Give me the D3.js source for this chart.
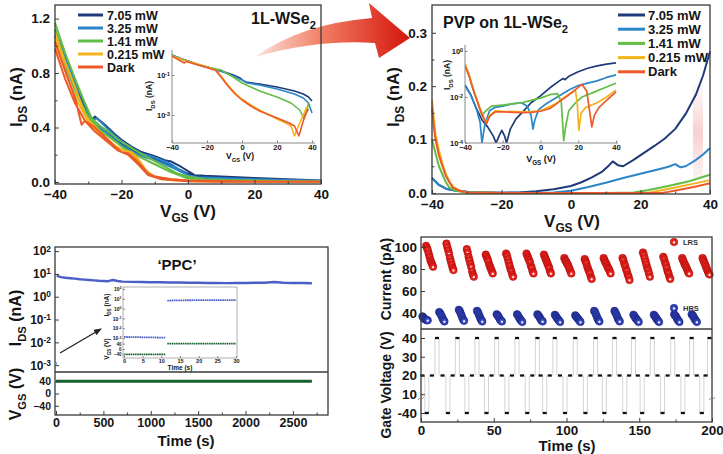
<!DOCTYPE html>
<html><head><meta charset="utf-8">
<script src="https://cdn.jsdelivr.net/npm/d3@7"></script>
<style>
body{margin:0;background:#fff;}
svg{display:block;font-family:"Liberation Sans",Arial,sans-serif;font-weight:bold;}
</style></head><body>
<svg id="c" width="723" height="454"></svg>
<script>
// ---------------- DATA ----------------
const seriesNames = ["7.05 mW","3.25 mW","1.41 mW","0.215 mW","Dark"];
const seriesColors = ["#1e3a78","#2a86c8","#62bd45","#f3b31b","#eb5a28"];

// Panel A (1L-WSe2), I_DS (nA) vs V_GS, forward / backward sweeps
const a705F = [[-40,1.07],[-37,0.88],[-34,0.7],[-31,0.55],[-29,0.45],[-28,0.48],[-25,0.42],[-22,0.35],[-20,0.31],[-17,0.26],[-14,0.22],[-10,0.19],[-7,0.16],[-5,0.15],[-2,0.11],[0,0.08],[2,0.05],[5,0.045],[10,0.04],[20,0.03],[30,0.02],[40,0.01]];
const a705B = [[40,0.01],[30,0.015],[20,0.02],[10,0.025],[3,0.04],[0,0.06],[-5,0.12],[-10,0.17],[-15,0.21],[-20,0.28],[-25,0.38],[-28,0.44],[-30,0.5],[-33,0.65],[-36,0.82],[-40,1.03]];
const a325F = [[-40,1.12],[-37,0.92],[-34,0.74],[-31,0.57],[-29,0.44],[-27.5,0.47],[-25,0.41],[-22,0.34],[-20,0.3],[-17,0.25],[-14,0.21],[-10,0.18],[-7,0.15],[-5,0.13],[-2,0.08],[0,0.05],[3,0.035],[10,0.03],[20,0.02],[30,0.015],[40,0.008]];
const a325B = [[40,0.008],[30,0.01],[20,0.015],[10,0.02],[2,0.03],[0,0.05],[-5,0.11],[-10,0.16],[-15,0.2],[-20,0.27],[-25,0.37],[-28,0.42],[-31,0.52],[-34,0.68],[-37,0.86],[-40,1.08]];
const a141F = [[-40,1.17],[-37,0.95],[-34,0.76],[-31,0.58],[-29,0.47],[-27,0.42],[-24,0.37],[-21,0.31],[-19,0.28],[-17,0.25],[-15,0.22],[-12,0.18],[-9,0.14],[-6,0.1],[-3,0.06],[0,0.04],[5,0.02],[15,0.012],[30,0.006],[40,0.004]];
const a141B = [[40,0.004],[20,0.006],[5,0.012],[0,0.025],[-5,0.07],[-10,0.13],[-15,0.19],[-18,0.23],[-20,0.26],[-22,0.3],[-26,0.37],[-30,0.48],[-33,0.62],[-36,0.8],[-40,1.12]];
const a0215F = [[-40,1.1],[-37,0.88],[-34,0.7],[-31,0.5],[-30,0.46],[-27,0.38],[-24,0.31],[-21,0.25],[-19,0.23],[-17,0.22],[-15,0.17],[-13,0.1],[-11,0.05],[-8,0.03],[-5,0.02],[0,0.01],[10,0.005],[40,0.002]];
const a0215B = [[40,0.002],[10,0.003],[0,0.006],[-6,0.015],[-10,0.04],[-13,0.09],[-16,0.19],[-18,0.22],[-20,0.24],[-23,0.28],[-27,0.36],[-30,0.44],[-33,0.58],[-36,0.75],[-40,1.06]];
const aDarkF = [[-40,1.03],[-37,0.82],[-34,0.62],[-32.5,0.47],[-32,0.42],[-31,0.45],[-28,0.4],[-25,0.33],[-22,0.26],[-20,0.22],[-18,0.21],[-16,0.17],[-14,0.12],[-12,0.06],[-10,0.04],[-5,0.02],[0,0.01],[20,0.004],[40,0.001]];
const aDarkB = [[40,0.001],[10,0.002],[0,0.005],[-8,0.02],[-12,0.05],[-15,0.13],[-18,0.2],[-21,0.23],[-24,0.29],[-28,0.37],[-31,0.45],[-34,0.58],[-37,0.76],[-40,0.98]];

// Panel A inset: log10 I_DS
const ia705 = [[-40,0],[-35,-0.18],[-30,-0.33],[-25,-0.48],[-20,-0.6],[-15,-0.72],[-10,-0.85],[-5,-1.0],[-1,-1.15],[1,-1.3],[3,-1.37],[10,-1.45],[20,-1.6],[30,-1.8],[35,-1.95],[38,-2.1],[40,-2.3]];
const ia325 = [[-40,-0.02],[-35,-0.2],[-30,-0.34],[-25,-0.5],[-20,-0.62],[-15,-0.74],[-10,-0.88],[-5,-1.05],[0,-1.25],[3,-1.4],[10,-1.5],[20,-1.7],[30,-1.95],[35,-2.15],[38,-2.4],[40,-2.9]];
const ia141 = [[-40,0],[-35,-0.2],[-30,-0.35],[-20,-0.6],[-12,-0.75],[-5,-1.1],[0,-1.4],[5,-1.6],[10,-1.8],[20,-2.1],[28,-2.4],[33,-2.75],[35.5,-3.2],[37,-2.8],[38,-2.4]];
const ia0215 = [[-40,-0.05],[-35,-0.2],[-31,-0.33],[-27,-0.4],[-20,-0.6],[-15,-0.75],[-12,-1.05],[-8,-1.5],[-4,-1.9],[0,-2.2],[5,-2.5],[10,-2.75],[20,-3.2],[25,-3.4],[28,-3.55],[30,-4.05],[32,-3.6],[35,-3.0],[37,-2.6]];
const iaDark = [[-40,-0.05],[-36,-0.25],[-33,-0.4],[-32,-0.33],[-28,-0.42],[-20,-0.62],[-15,-0.78],[-12,-1.1],[-8,-1.55],[-4,-1.95],[0,-2.25],[5,-2.55],[10,-2.8],[20,-3.15],[27,-3.4],[30,-3.55],[32.5,-4.05],[34,-3.6],[36,-3.0],[38,-2.7]];

// Panel B (PVP on 1L-WSe2) I_DS (nA)
const b705 = [[-40,0.028],[-38,0.015],[-36,0.008],[-33,0.004],[-30,0.002],[-25,0.001],[-20,0.0005],[-15,0.001],[-10,0.003],[-5,0.007],[0,0.013],[3,0.02],[6,0.029],[9,0.04],[11,0.052],[12,0.059],[13.5,0.052],[15,0.05],[18,0.062],[21,0.075],[24,0.088],[27,0.102],[30,0.12],[33,0.148],[36,0.185],[38,0.22],[40,0.265]];
const b325 = [[-40,0.028],[-38,0.015],[-36,0.008],[-33,0.004],[-30,0.002],[-20,0.0005],[-10,0.0005],[-5,0.001],[0,0.004],[5,0.011],[10,0.019],[15,0.028],[20,0.036],[25,0.044],[28,0.049],[30,0.054],[31.5,0.048],[33,0.05],[36,0.062],[38,0.072],[40,0.084]];
const b141 = [[-40,0.1],[-39,0.075],[-38,0.05],[-37,0.035],[-36,0.02],[-35,0.01],[-33,0.004],[-30,0.001],[-20,0],[0,0],[10,0],[18,0.001],[22,0.005],[28,0.013],[34,0.022],[40,0.034]];
const b0215 = [[-40,0.174],[-39.5,0.14],[-39,0.11],[-38,0.08],[-37,0.055],[-36,0.035],[-35,0.022],[-34,0.012],[-32,0.004],[-30,0.001],[-20,0],[10,0],[22,0],[26,0.005],[30,0.01],[35,0.017],[40,0.024]];
const bDark = [[-40,0.16],[-39.5,0.125],[-39,0.1],[-38,0.07],[-37,0.05],[-36,0.032],[-35,0.02],[-34,0.01],[-32,0.004],[-30,0.001],[-20,0],[20,0],[26,0],[28,0.002],[32,0.007],[36,0.012],[40,0.018]];

// Panel B inset: log10 I_DS
const ib705 = [[-40,-1.48],[-37,-1.9],[-34,-2.5],[-31,-3.0],[-28,-3.3],[-25,-3.7],[-23.5,-4.0],[-22,-3.7],[-20.5,-3.45],[-19,-3.7],[-18,-4.0],[-16,-3.4],[-13,-2.95],[-10,-2.7],[-5,-2.25],[0,-1.95],[5,-1.6],[10,-1.3],[12,-1.2],[13,-1.25],[15,-1.1],[20,-0.9],[25,-0.75],[30,-0.65],[35,-0.57],[40,-0.52]];
const ib325 = [[-40,-1.5],[-37,-1.9],[-34,-2.5],[-32,-3.1],[-31,-4.0],[-29.5,-3.2],[-27,-2.6],[-24,-2.45],[-20,-2.4],[-15,-2.3],[-10,-2.25],[-7,-2.4],[-5,-2.8],[-4,-3.4],[-3,-3.0],[-1,-2.55],[2,-2.35],[5,-2.2],[10,-1.95],[15,-1.7],[20,-1.5],[25,-1.4],[30,-1.3],[35,-1.15],[40,-1.04]];
const ib141 = [[-40,-0.6],[-38,-1.0],[-36,-1.6],[-33,-2.3],[-31,-2.8],[-29,-2.6],[-26,-2.4],[-20,-2.35],[-15,-2.3],[-10,-2.25],[-5,-2.15],[0,-2.05],[5,-1.9],[9,-1.85],[11,-2.2],[12.3,-3.9],[13.5,-3.2],[15,-2.6],[18,-2.3],[22,-2.0],[28,-1.8],[34,-1.6],[40,-1.4]];
const ib0215 = [[-40,-0.55],[-38,-1.0],[-35,-1.8],[-32,-2.5],[-30,-2.9],[-28.5,-3.1],[-27,-2.8],[-24,-2.6],[-20,-2.62],[-10,-2.65],[-5,-2.64],[0,-2.6],[4,-2.45],[8,-2.3],[12,-2.05],[16,-1.85],[18.5,-1.7],[19.5,-2.3],[20.3,-3.45],[21.5,-2.7],[24,-2.45],[30,-2.25],[35,-2.0],[40,-1.7]];
const ibDark = [[-40,-0.65],[-38,-1.05],[-35,-1.85],[-32,-2.55],[-30,-2.95],[-28.5,-3.15],[-27,-2.85],[-24,-2.65],[-20,-2.65],[-10,-2.68],[-5,-2.67],[0,-2.62],[5,-2.5],[10,-2.2],[15,-1.9],[19,-1.65],[22,-1.45],[24.5,-1.75],[26,-2.6],[27.2,-3.3],[28.5,-2.8],[31,-2.45],[35,-2.15],[40,-1.78]];

// Panel C ('PPC')
const cIdsPre = [[0,0.0012],[8,0.0012]];
const cIds = [[8,8.5],[20,8],[50,7.2],[100,6.8],[150,6.5],[200,6.2],[250,5.8],[300,5.6],[350,5.4],[400,5.2],[450,5.0],[500,4.9],[550,4.8],[600,5.4],[650,4.9],[700,4.6],[800,4.5],[900,4.4],[1000,4.3],[1100,4.3],[1200,4.2],[1300,4.2],[1400,4.1],[1500,4.1],[1600,4.0],[1700,4.0],[1800,3.95],[1900,4.0],[2000,4.0],[2100,4.1],[2200,4.1],[2300,4.4],[2400,4.1],[2500,4.0],[2600,4.0],[2700,3.9]];
const cVgs = [[0,40],[2700,40]];
const cTicksX = [0,500,1000,1500,2000,2500];
const cTicksI = [1e-3,1e-2,1e-1,1,10,100];
const cTicksV = [-40,0,40];
// inset of panel C
const icIdsLow = [[0,0.0013],[5,0.0012],[11.2,0.0011]];
const icIdsHigh = [[11.6,6.5],[15,7],[20,7.2],[30,7.4]];
const icVgsLow = [[0,-40],[11.2,-40]];
const icVgsHigh = [[11.6,40],[30,40]];

// Panel D (LRS / HRS)
const lrsStart = [3.5,17.5,31.5,44.5,58.5,72.5,84.5,98.5,112.5,125.5,138.5,152.5,166.5,179.5,193.5];
const lrsVals = [
 [101,99,97,94,91,88,86,84,82],[103,100,97,94,90,87,84,81,79],[98,95,91,88,85,82,78,75,73],
 [93,91,89,87,84,82,80,78,76],[94,92,89,86,83,80,78,75,73],[94,92,90,88,86,83,81,78,76],
 [93,91,89,87,85,83,81,78,76],[90,88,87,85,84,82,80,78,76],[89,87,85,82,80,78,76,73,71],
 [90,88,86,85,83,81,80,78,76],[90,88,85,83,80,78,75,73,70],[95,93,90,87,84,81,79,76,73],
 [91,89,86,84,81,78,76,73,71],[90,88,86,84,83,81,79,77,76],[90,88,86,84,82,80,78,76,75]];
const hrsStart = [1,12.5,26,38.5,52,66,80,92,106,119,133,146,160,174,186];
const hrsVals = [
 [37,36,35,34.5,34,33.5,33.5],[41,40,38.5,37,35,33.5,32.5],[43,42,40,38,36,34,33],
 [42,41,39,37,35,33.5,32.5],[39,38,37,35.5,34,33,32.5],[39,38,36.5,35,34,33,32],
 [39,38,37,35.5,34,33,32.5],[38.5,37.5,36,35,34,33,32],[38,37,36,35,34,33,32],
 [42,41,39,37,35,33.5,32.5],[42,40.5,39,37,35,33.5,32.5],[38.5,37.5,36,35,34,33,32],
 [38.5,37.5,36.5,35,34,33,32],[39,38,37,35.5,34,33,32],[39,38,37,35.5,34,33,32]];
const negPulseT = [4,18.5,31.5,45,59,73,85,99,113,126,140,152,166,180,193];
const posPulseT = [11,25,38.5,52,66,80,92,106,120,133,146,159,173,186,198.3];
const readT = [0.9,7.5,14.8,21.8,28.2,35,41.8,48.5,55.5,62.5,69.5,76.5,82.2,88.5,95.5,102.5,109.5,116.5,123,129.5,136.5,143,149,155.5,162.5,169.5,176.5,183,189.5,195.6];
const dTicksX = [0,50,100,150,200];
const dTicksI = [40,60,80,100];
const dTicksV = [40,30,20,10,-40];

// ---------------- HELPERS ----------------
const svg = d3.select("#c");
svg.append("rect").attr("width",723).attr("height",454).attr("fill","#fff");
const defs = svg.append("defs");
const TXT = "#151515", AXC = "#3a3a3a";

function rich(g, x, y, parts, size, opts={}){
  const t = g.append("text").attr("x",x).attr("y",y).attr("font-size",size)
    .attr("text-anchor",opts.anchor||"middle").attr("fill",opts.fill||TXT);
  if(opts.rotate) t.attr("transform",`rotate(-90,${x},${y})`);
  let cur=0;
  parts.forEach(([s,k])=>{
    const target = k===1? size*0.3 : (k===-1 ? -size*0.4 : 0);
    const ts = t.append("tspan").text(s).attr("dy", (target-cur).toFixed(2));
    if(k!==0) ts.attr("font-size", size*0.7);
    cur = target;
  });
  return t;
}
function axisStyle(g, size){
  g.select(".domain").remove();
  g.selectAll(".tick line").attr("stroke",AXC).attr("stroke-width",1);
  g.selectAll(".tick text").attr("font-size",size).attr("fill",TXT).attr("font-family","Liberation Sans, Arial, sans-serif").attr("font-weight","bold");
  return g;
}
function pow10Labels(g){
  g.selectAll(".tick text").each(function(d){
    const t=d3.select(this); t.text(null);
    t.append("tspan").text("10");
    t.append("tspan").attr("dy","-0.45em").attr("font-size","0.7em").text(Math.round(Math.log10(d)));
  });
}
function box(g,x,y,w,h,stroke,sw){
  g.append("rect").attr("x",x).attr("y",y).attr("width",w).attr("height",h)
   .attr("fill","none").attr("stroke",stroke||AXC).attr("stroke-width",sw||1.3);
}

// ---------------- red arrow ----------------
const ag = defs.append("linearGradient").attr("id","arrowGrad").attr("x1","0").attr("x2","1").attr("y1","0").attr("y2","0");
ag.append("stop").attr("offset","0").attr("stop-color","#fde3dc");
ag.append("stop").attr("offset","0.45").attr("stop-color","#f07a60");
ag.append("stop").attr("offset","1").attr("stop-color","#d4150c");
svg.append("path").attr("d","M255,57 Q300,24 372,18 L369,3 L410,38 L379,58 L375,43 Q318,39 255,57 Z")
  .attr("fill","url(#arrowGrad)");

// ---------------- PANEL A ----------------
{
  const g = svg.append("g");
  const x = d3.scaleLinear().domain([-40,40]).range([55,321]);
  const y = d3.scaleLinear().domain([-0.015,1.3]).range([184,5]);
  const aF=[a705F,a325F,a141F,a0215F,aDarkF], aB=[a705B,a325B,a141B,a0215B,aDarkB];
  const line = d3.line().x(d=>x(d[0])).y(d=>y(d[1]));
  aF.forEach((s,i)=>{
    g.append("path").attr("d",line(s.concat(aB[i]))).attr("fill","none").attr("stroke",seriesColors[i]).attr("stroke-width",2).attr("stroke-linejoin","round");
  });
  box(g,55,5,266,179);
  axisStyle(g.append("g").attr("transform","translate(0,184)").call(d3.axisBottom(x).tickValues([-40,-20,0,20,40]).tickSizeInner(-4).tickSizeOuter(0).tickPadding(5.5)),13.5);
  axisStyle(g.append("g").attr("transform","translate(0,184)").call(d3.axisBottom(x).tickValues([-30,-10,10,30]).tickSizeInner(-2.5).tickSizeOuter(0).tickFormat("")),13);
  axisStyle(g.append("g").attr("transform","translate(55,0)").call(d3.axisLeft(y).tickValues([0,0.4,0.8,1.2]).tickFormat(d3.format(".1f")).tickSizeInner(-4).tickSizeOuter(0).tickPadding(5)),13.5);
  axisStyle(g.append("g").attr("transform","translate(55,0)").call(d3.axisLeft(y).tickValues([0.2,0.6,1.0]).tickSizeInner(-2.5).tickSizeOuter(0).tickFormat("")),13);
  rich(g,188,217,[["V",0],["GS",1],[" (V)",0]],17);
  rich(g,22,97,[["I",0],["DS",1],[" (nA)",0]],17,{rotate:true});
  rich(g,251,24,[["1L-WSe",0],["2",1]],16,{anchor:"start"});
  seriesNames.forEach((n,i)=>{
    const yy = 15 + i*13;
    g.append("line").attr("x1",78).attr("x2",103).attr("y1",yy).attr("y2",yy).attr("stroke",seriesColors[i]).attr("stroke-width",3);
    g.append("text").attr("x",107).attr("y",yy+4.5).attr("font-size",12.5).attr("fill",TXT).text(n);
  });
  // inset
  const ix = d3.scaleLinear().domain([-40,40]).range([172,312]);
  const iy = d3.scaleLinear().domain([-4.4,0.25]).range([143,50]);
  const il = d3.line().x(d=>ix(d[0])).y(d=>iy(d[1]));
  [ia705,ia325,ia141,ia0215,iaDark].forEach((s,i)=>{
    g.append("path").attr("d",il(s)).attr("fill","none").attr("stroke",seriesColors[i]).attr("stroke-width",1.6).attr("stroke-linejoin","round");
  });
  g.append("path").attr("d","M172,50 V143 H315").attr("fill","none").attr("stroke","#888").attr("stroke-width",1);
  const ixa = g.append("g").attr("transform","translate(0,143)").call(d3.axisBottom(ix).tickValues([-40,-20,0,20,40]).tickSizeInner(-2.5).tickSizeOuter(0).tickPadding(2));
  axisStyle(ixa,7.5); ixa.selectAll(".tick line").attr("stroke","#888");
  const iya = g.append("g").attr("transform","translate(172,0)").call(d3.axisLeft(iy).tickValues([-1,-3]).tickSizeInner(-2.5).tickSizeOuter(0).tickPadding(2));
  axisStyle(iya,7.5); iya.selectAll(".tick line").attr("stroke","#888");
  iya.selectAll(".tick text").each(function(d){const t=d3.select(this);t.text(null);t.append("tspan").text("10");t.append("tspan").attr("dy","-0.45em").attr("font-size","0.7em").text(d);});
  rich(g,240,159,[["V",0],["GS",1],[" (V)",0]],8.5);
  rich(g,152,96,[["I",0],["DS",1],[" (nA)",0]],8.5,{rotate:true});
}

// ---------------- PANEL B ----------------
{
  const g = svg.append("g");
  const x = d3.scaleLinear().domain([-40,40]).range([432,710]);
  const y = d3.scaleLinear().domain([-0.002,0.352]).range([194,5]);
  const pg = defs.append("linearGradient").attr("id","pinkBand").attr("x1","0").attr("x2","0").attr("y1","0").attr("y2","1");
  pg.append("stop").attr("offset","0").attr("stop-color","#fbe3e3").attr("stop-opacity",0.3);
  pg.append("stop").attr("offset","0.5").attr("stop-color","#f8cfcf");
  pg.append("stop").attr("offset","1").attr("stop-color","#fbe3e3").attr("stop-opacity",0.5);
  g.append("rect").attr("x",693).attr("y",86).attr("width",10).attr("height",92).attr("fill","url(#pinkBand)");
  const line = d3.line().x(d=>x(d[0])).y(d=>y(d[1]));
  [b705,b325,b141,b0215,bDark].forEach((s,i)=>{
    g.append("path").attr("d",line(s)).attr("fill","none").attr("stroke",seriesColors[i]).attr("stroke-width",2).attr("stroke-linejoin","round");
  });
  box(g,432,5,278,189);
  axisStyle(g.append("g").attr("transform","translate(0,194)").call(d3.axisBottom(x).tickValues([-40,-20,0,20,40]).tickSizeInner(-4).tickSizeOuter(0).tickPadding(5.5)),13.5);
  axisStyle(g.append("g").attr("transform","translate(0,194)").call(d3.axisBottom(x).tickValues([-30,-10,10,30]).tickSizeInner(-2.5).tickSizeOuter(0).tickFormat("")),13);
  axisStyle(g.append("g").attr("transform","translate(432,0)").call(d3.axisLeft(y).tickValues([0,0.1,0.2,0.3]).tickFormat(d3.format(".1f")).tickSizeInner(-4).tickSizeOuter(0).tickPadding(5)),13.5);
  axisStyle(g.append("g").attr("transform","translate(432,0)").call(d3.axisLeft(y).tickValues([0.05,0.15,0.25]).tickSizeInner(-2.5).tickSizeOuter(0).tickFormat("")),13);
  rich(g,572,227,[["V",0],["GS",1],[" (V)",0]],17);
  rich(g,399,97,[["I",0],["DS",1],[" (nA)",0]],17,{rotate:true});
  rich(g,443,28,[["PVP on 1L-WSe",0],["2",1]],16,{anchor:"start"});
  seriesNames.forEach((n,i)=>{
    const yy = 15 + i*14.2;
    g.append("line").attr("x1",618).attr("x2",645).attr("y1",yy).attr("y2",yy).attr("stroke",seriesColors[i]).attr("stroke-width",3);
    g.append("text").attr("x",648).attr("y",yy+4.5).attr("font-size",13).attr("fill",TXT).text(n);
  });
  // inset
  const ix = d3.scaleLinear().domain([-40,40]).range([465,616]);
  const iy = d3.scaleLinear().domain([-4,0.26]).range([143,45]);
  defs.append("clipPath").attr("id","clipIB").append("rect").attr("x",465).attr("y",45).attr("width",155).attr("height",98);
  const il = d3.line().x(d=>ix(d[0])).y(d=>iy(d[1]));
  const ig = g.append("g").attr("clip-path","url(#clipIB)");
  [ib705,ib325,ib141,ib0215,ibDark].forEach((s,i)=>{
    ig.append("path").attr("d",il(s)).attr("fill","none").attr("stroke",seriesColors[i]).attr("stroke-width",1.7).attr("stroke-linejoin","round");
  });
  g.append("path").attr("d","M465,45 V143 H618").attr("fill","none").attr("stroke","#888").attr("stroke-width",1);
  const ixa = g.append("g").attr("transform","translate(0,143)").call(d3.axisBottom(ix).tickValues([-40,-20,0,20,40]).tickSizeInner(-2.5).tickSizeOuter(0).tickPadding(2));
  axisStyle(ixa,7.5); ixa.selectAll(".tick line").attr("stroke","#888");
  const iya = g.append("g").attr("transform","translate(465,0)").call(d3.axisLeft(iy).tickValues([0,-2,-4]).tickSizeInner(-2.5).tickSizeOuter(0).tickPadding(2));
  axisStyle(iya,7.5); iya.selectAll(".tick line").attr("stroke","#888");
  iya.selectAll(".tick text").each(function(d){const t=d3.select(this);t.text(null);t.append("tspan").text("10");t.append("tspan").attr("dy","-0.45em").attr("font-size","0.7em").text(d===0?"0":d);});
  rich(g,541,162,[["V",0],["GS",1],[" (V)",0]],9);
  rich(g,450,75,[["I",0],["DS",1],[" (nA)",0]],8.5,{rotate:true});
}

// ---------------- PANEL C ----------------
{
  const g = svg.append("g");
  const x = d3.scaleLinear().domain([0,2870]).range([56,328]);
  const yI = d3.scaleLog().domain([Math.pow(10,-3.3),Math.pow(10,2.18)]).range([372,247]);
  const yV = d3.scaleLinear().domain([-70,70]).range([415,372]);
  const lIds = d3.line().x(d=>x(d[0])).y(d=>yI(d[1]));
  g.append("path").attr("d",lIds(cIdsPre)).attr("fill","none").attr("stroke","#4a5ec8").attr("stroke-width",2.4);
  g.append("path").attr("d",lIds(cIds)).attr("fill","none").attr("stroke","#4a5ec8").attr("stroke-width",2.4).attr("stroke-linejoin","round");
  g.append("path").attr("d",d3.line().x(d=>x(d[0])).y(d=>yV(d[1]))(cVgs)).attr("fill","none").attr("stroke","#17612f").attr("stroke-width",3);
  box(g,55,247,273,168);
  g.append("line").attr("x1",55).attr("x2",328).attr("y1",372).attr("y2",372).attr("stroke",AXC).attr("stroke-width",1.3);
  axisStyle(g.append("g").attr("transform","translate(0,415)").call(d3.axisBottom(x).tickValues(cTicksX).tickFormat(d3.format("d")).tickSizeInner(-4).tickSizeOuter(0).tickPadding(3)),12.5);
  axisStyle(g.append("g").attr("transform","translate(0,415)").call(d3.axisBottom(x).tickValues([250,750,1250,1750,2250,2750]).tickSizeInner(-2.5).tickSizeOuter(0).tickFormat("")),12);
  const ya = g.append("g").attr("transform","translate(55,0)").call(d3.axisLeft(yI).tickValues(cTicksI).tickSizeInner(-4).tickSizeOuter(0).tickPadding(4));
  axisStyle(ya,12); pow10Labels(ya);
  axisStyle(g.append("g").attr("transform","translate(55,0)").call(d3.axisLeft(yV).tickValues(cTicksV).tickSizeInner(-4).tickSizeOuter(0).tickPadding(4)),10.5);
  rich(g,186,446,[["Time (s)",0]],15);
  rich(g,21,318,[["I",0],["DS",1],[" (nA)",0]],16,{rotate:true});
  rich(g,21,394,[["V",0],["GS",1],[" (V)",0]],16,{rotate:true});
  g.append("text").attr("x",177).attr("y",270).attr("text-anchor","middle").attr("font-size",15).attr("fill",TXT).text("\u2018PPC\u2019");
  defs.append("marker").attr("id","ah").attr("viewBox","0 0 10 10").attr("refX",9).attr("refY",5).attr("markerWidth",6).attr("markerHeight",6).attr("orient","auto")
    .append("path").attr("d","M0,1 L10,5 L0,9 Z").attr("fill","#222");
  g.append("line").attr("x1",60).attr("y1",353).attr("x2",101).attr("y2",329).attr("stroke","#222").attr("stroke-width",1.3).attr("marker-end","url(#ah)");
  // inset
  g.append("rect").attr("x",123).attr("y",287).attr("width",114).attr("height",71).attr("fill","#fff").attr("stroke","#9a9a9a").attr("stroke-width",0.8);
  const ix = d3.scaleLinear().domain([0,30]).range([124,236]);
  const iyI = d3.scaleLog().domain([Math.pow(10,-3.3),Math.pow(10,2.2)]).range([341,287]);
  const iyV = d3.scaleLinear().domain([-60,60]).range([357,341]);
  const lI = d3.line().x(d=>ix(d[0])).y(d=>iyI(d[1]));
  const lV = d3.line().x(d=>ix(d[0])).y(d=>iyV(d[1]));
  [icIdsLow,icIdsHigh].forEach(s=>g.append("path").attr("d",lI(s)).attr("fill","none").attr("stroke","#4a5ec8").attr("stroke-width",1.8).attr("stroke-dasharray","1.6,0.6"));
  [icVgsLow,icVgsHigh].forEach(s=>g.append("path").attr("d",lV(s)).attr("fill","none").attr("stroke","#17612f").attr("stroke-width",1.8).attr("stroke-dasharray","1.6,0.6"));
  const ixa = g.append("g").attr("transform","translate(0,358)").call(d3.axisBottom(ix).tickValues([0,5,10,15,20,25,30]).tickSizeInner(-2).tickSizeOuter(0).tickPadding(1.5));
  axisStyle(ixa,5.5); ixa.selectAll(".tick line").attr("stroke","#888");
  const iya = g.append("g").attr("transform","translate(123,0)").call(d3.axisLeft(iyI).tickValues([1e-3,1e-2,1e-1,1,10,100]).tickSizeInner(-2).tickSizeOuter(0).tickPadding(1.5));
  axisStyle(iya,5); pow10Labels(iya); iya.selectAll(".tick line").attr("stroke","#888");
  const iyb = g.append("g").attr("transform","translate(123,0)").call(d3.axisLeft(iyV).tickValues([-40,0,40]).tickSizeInner(-2).tickSizeOuter(0).tickPadding(1.5));
  axisStyle(iyb,4.5); iyb.selectAll(".tick line").attr("stroke","#888");
  rich(g,180,370,[["Time (s)",0]],6.5);
  rich(g,109,305,[["I",0],["DS",1],[" (nA)",0]],6.5,{rotate:true});
  rich(g,109,349,[["V",0],["GS",1],[" (V)",0]],6.5,{rotate:true});
}

// ---------------- PANEL D ----------------
{
  const g = svg.append("g");
  const x = d3.scaleLinear().domain([0,200]).range([421,712]);
  const yI = d3.scaleLinear().domain([25.6,109]).range([329,237]);
  const yV = d3.scaleLinear().domain([-4.8,44.8]).range([422,329]);
  const gv = v => v===-40 ? 0 : v;   // broken axis: -40 V drawn just below 10 V
  function grad(id,c0,c1){
    const rg = defs.append("radialGradient").attr("id",id).attr("cx","0.5").attr("cy","0.55").attr("r","0.55");
    rg.append("stop").attr("offset","0").attr("stop-color","#fff");
    rg.append("stop").attr("offset","0.12").attr("stop-color","#fff");
    rg.append("stop").attr("offset","0.38").attr("stop-color",c0);
    rg.append("stop").attr("offset","1").attr("stop-color",c1);
  }
  grad("gLRS","#ee2a22","#c8140f");
  grad("gHRS","#3a4cc0","#22309a");
  const step = 0.6;
  lrsVals.forEach((vals,k)=>{
    vals.forEach((v,j)=>{
      g.append("circle").attr("cx",x(lrsStart[k]+j*step)).attr("cy",yI(v)).attr("r",3.8).attr("fill","url(#gLRS)").attr("stroke","#b30f0f").attr("stroke-width",0.5);
    });
  });
  hrsVals.forEach((vals,k)=>{
    vals.forEach((v,j)=>{
      g.append("circle").attr("cx",x(hrsStart[k]+j*step)).attr("cy",yI(v)).attr("r",3.8).attr("fill","url(#gHRS)").attr("stroke","#1c2785").attr("stroke-width",0.5);
    });
  });
  const hw = 1.4;
  negPulseT.forEach(t=>{
    [t-hw,t+hw].forEach(tt=>g.append("line").attr("x1",x(tt)).attr("x2",x(tt)).attr("y1",yV(20)).attr("y2",yV(gv(-40))).attr("stroke","#c2c2c2").attr("stroke-width",0.7));
  });
  posPulseT.forEach(t=>{
    [t-hw,t+hw].forEach(tt=>g.append("line").attr("x1",x(tt)).attr("x2",x(tt)).attr("y1",yV(20)).attr("y2",yV(40)).attr("stroke","#c2c2c2").attr("stroke-width",0.7));
  });
  const dash = (t,v)=>g.append("line").attr("x1",x(t-hw)).attr("x2",x(t+hw)).attr("y1",yV(gv(v))).attr("y2",yV(gv(v))).attr("stroke","#111").attr("stroke-width",2.3);
  negPulseT.forEach(t=>dash(t,-40));
  posPulseT.forEach(t=>dash(t,40));
  readT.forEach(t=>dash(t,20));
  box(g,421,237,291,185);
  g.append("line").attr("x1",421).attr("x2",712).attr("y1",329).attr("y2",329).attr("stroke",AXC).attr("stroke-width",1.3);
  axisStyle(g.append("g").attr("transform","translate(0,422)").call(d3.axisBottom(x).tickValues(dTicksX).tickSizeInner(-4).tickSizeOuter(0).tickPadding(3)),13.5);
  axisStyle(g.append("g").attr("transform","translate(0,422)").call(d3.axisBottom(x).tickValues([25,75,125,175]).tickSizeInner(-2.5).tickSizeOuter(0).tickFormat("")),12);
  axisStyle(g.append("g").attr("transform","translate(421,0)").call(d3.axisLeft(yI).tickValues(dTicksI).tickSizeInner(-4).tickSizeOuter(0).tickPadding(4)),13.5);
  axisStyle(g.append("g").attr("transform","translate(421,0)").call(d3.axisLeft(yV).tickValues(dTicksV.map(gv)).tickFormat(d=>d===0?"-40":d).tickSizeInner(-4).tickSizeOuter(0).tickPadding(4)),13.5);
  [[421,398],[712,398]].forEach(([bx,byy])=>{
    g.append("path").attr("d",`M${bx-3},${byy+2} L${bx+1},${byy-2} M${bx-1},${byy+3} L${bx+3},${byy-1}`).attr("stroke","#777").attr("stroke-width",0.8).attr("fill","none");
  });
  rich(g,567,451,[["Time (s)",0]],15);
  rich(g,391,279,[["Current (pA)",0]],14,{rotate:true});
  rich(g,391,385,[["Gate Voltage (V)",0]],14,{rotate:true});
  g.append("circle").attr("cx",674).attr("cy",242).attr("r",3.8).attr("fill","url(#gLRS)").attr("stroke","#b30f0f").attr("stroke-width",0.5);
  g.append("text").attr("x",683).attr("y",245).attr("font-size",7.5).attr("fill","#333").text("LRS");
  g.append("circle").attr("cx",674).attr("cy",308).attr("r",3.8).attr("fill","url(#gHRS)").attr("stroke","#1c2785").attr("stroke-width",0.5);
  g.append("text").attr("x",683).attr("y",311).attr("font-size",7.5).attr("fill","#333").text("HRS");
}
</script>
</body></html>
